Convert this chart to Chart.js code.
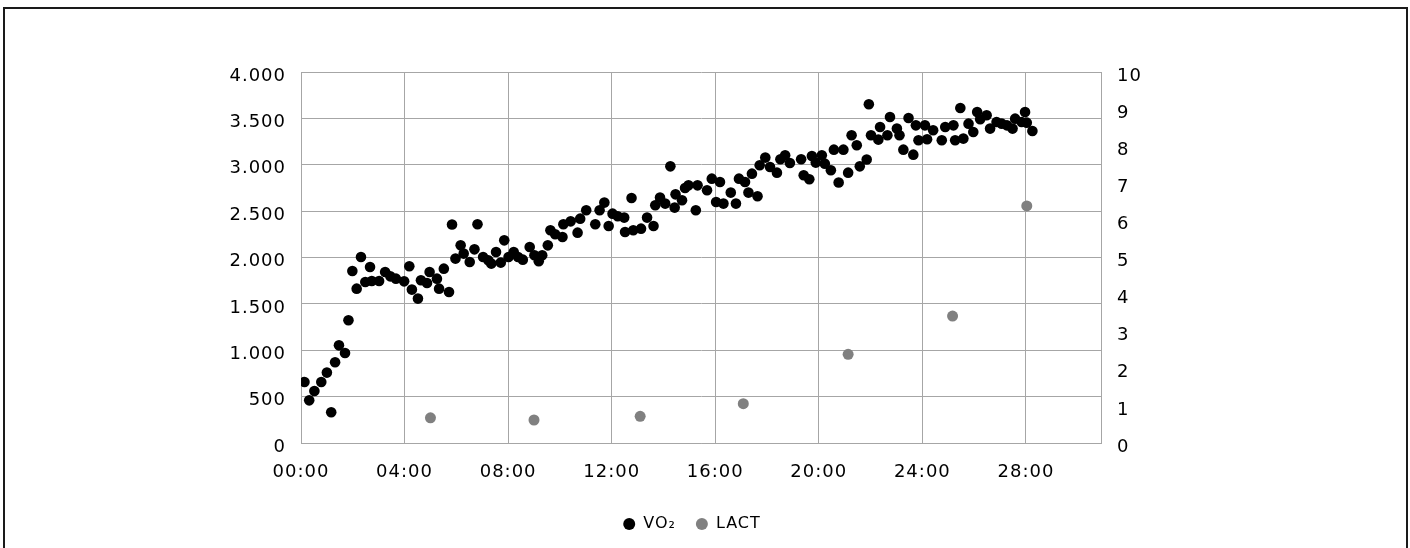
<!DOCTYPE html>
<html>
<head>
<meta charset="utf-8">
<script src="https://cdn.jsdelivr.net/npm/chart.js@4.4.1/dist/chart.umd.min.js"></script>
<style>
  html, body { margin: 0; padding: 0; background: #fff; overflow: hidden; }
  #wrap { position: relative; width: 1410px; height: 548px; }
  #frame {
    position: absolute; left: 3px; top: 7px; width: 1401px; height: 600px;
    border: 2px solid #1a1a1a; border-bottom: none; pointer-events: none;
  }
</style>
</head>
<body>
<div id="wrap">
  <canvas id="vo2Chart"></canvas>
  <div id="frame"></div>
</div>
<script>
// elapsed time in seconds, VO2 in ml/min
const vo2Time = [
  8, 19, 31, 47, 60, 70, 79, 88, 102, 110, 119, 129, 139, 149, 160, 164, 181, 195, 207, 220,
  239, 251, 257, 271, 278, 292, 298, 315, 320, 331, 343, 350, 358, 370, 377, 391, 402, 409, 422, 434,
  441, 452, 463, 471, 481, 493, 503, 514, 530, 541, 551, 559, 572, 578, 589, 606, 608, 625, 641, 647,
  661, 682, 692, 703, 713, 722, 734, 749, 751, 766, 770, 788, 802, 817, 821, 832, 844, 856, 866, 868,
  883, 890, 898, 915, 919, 941, 952, 962, 971, 979, 996, 1008, 1015, 1029, 1037, 1045, 1058, 1063, 1076, 1087,
  1103, 1111, 1122, 1133, 1159, 1165, 1178, 1184, 1193, 1207, 1214, 1228, 1235, 1246, 1257, 1268, 1276, 1288, 1295, 1311,
  1316, 1321, 1338, 1342, 1359, 1365, 1381, 1387, 1396, 1408, 1419, 1425, 1431, 1446, 1451, 1465, 1485, 1493, 1512, 1516,
  1528, 1535, 1547, 1558, 1567, 1574, 1589, 1597, 1612, 1624, 1636, 1649, 1655, 1670, 1678, 1682, 1695
]
const vo2Values = [
  658, 460, 561, 658, 759, 331, 870, 1053, 970, 1323, 1855, 1664, 2005, 1736, 1898, 1747, 1747, 1844, 1797, 1772,
  1743, 1905, 1654, 1557, 1754, 1725, 1844, 1772, 1664, 1880, 1628, 2355, 1988, 2131, 2042, 1952, 2088, 2358, 2005, 1970,
  1934, 2059, 1945, 2185, 2005, 2059, 2005, 1977, 2113, 2024, 1959, 2024, 2131, 2293, 2250, 2221, 2358, 2390, 2268, 2419,
  2509, 2358, 2509, 2592, 2340, 2473, 2444, 2430, 2275, 2642, 2293, 2311, 2430, 2340, 2563, 2646, 2581, 2983, 2538, 2681,
  2617, 2749, 2778, 2509, 2778, 2725, 2850, 2598, 2814, 2581, 2700, 2581, 2850, 2814, 2700, 2904, 2660, 2994, 3077, 2976,
  2915, 3059, 3102, 3019, 3059, 2886, 2843, 3094, 3023, 3102, 3012, 2940, 3163, 2808, 3163, 2915, 3318, 3210, 2983, 3056,
  3652, 3318, 3271, 3407, 3318, 3515, 3390, 3318, 3163, 3504, 3109, 3425, 3264, 3425, 3275, 3372, 3264, 3407, 3425, 3264,
  3612, 3282, 3443, 3353, 3569, 3490, 3533, 3390, 3461, 3443, 3425, 3390, 3497, 3461, 3569, 3454, 3364
]
// lactate samples (mmol/l)
const lactTime = [300, 540, 786, 1025, 1268, 1510, 1682]
const lactValues = [0.68, 0.62, 0.72, 1.06, 2.39, 3.42, 6.39]

const xMax = 1854
const vo2Ticks = [0, 500, 1000, 1500, 2000, 2500, 3000, 3500, 4000]
const lactTicks = [0, 1, 2, 3, 4, 5, 6, 7, 8, 9, 10]

function toPoints(xs, ys) {
  return xs.map((x, i) => ({ x: x, y: ys[i] }))
}

function mmss(sec) {
  const m = Math.floor(sec / 60)
  const s = Math.round(sec % 60)
  return String(m).padStart(2, '0') + ':' + String(s).padStart(2, '0')
}

function thousands(v) {
  return String(v).replace(/\B(?=(\d{3})+(?!\d))/g, '.')
}

// slightly wider text, like the original office chart font
const spacing = {
  id: 'spacing',
  beforeUpdate(chart) { chart.ctx.letterSpacing = '1px' },
  beforeDraw(chart) { chart.ctx.letterSpacing = '1px' }
}

Chart.defaults.font.family = '"DejaVu Sans", sans-serif'
Chart.defaults.color = '#000'

const gridColor = '#a6a6a6'

new Chart(document.getElementById('vo2Chart'), {
  type: 'scatter',
  data: {
    datasets: [{
      label: 'VO₂',
      data: toPoints(vo2Time, vo2Values),
      yAxisID: 'y',
      backgroundColor: '#000',
      borderWidth: 0,
      pointRadius: 5.3,
      pointHoverRadius: 5.3
    }, {
      label: 'LACT',
      data: toPoints(lactTime, lactValues),
      yAxisID: 'y1',
      backgroundColor: '#808080',
      borderWidth: 0,
      pointRadius: 5.5,
      pointHoverRadius: 5.5
    }]
  },
  options: {
    responsive: true,
    maintainAspectRatio: false,
    animation: false,
    layout: { padding: { top: 72, bottom: 6, left: 0, right: 26 } },
    plugins: {
      tooltip: { enabled: false },
      legend: {
        position: 'bottom',
        labels: {
          usePointStyle: true,
          pointStyle: 'circle',
          pointStyleWidth: 12,
          boxHeight: 8.5,
          padding: 20,
          font: { size: 16 }
        }
      }
    },
    scales: {
      x: {
        type: 'linear',
        min: 0,
        max: xMax,
        afterFit: s => { s.height = 53 },
        grid: { color: gridColor, drawTicks: false },
        border: { color: gridColor },
        ticks: {
          stepSize: 240,
          includeBounds: false,
          padding: 19,
          font: { size: 18 },
          callback: v => mmss(v)
        }
      },
      y: {
        position: 'left',
        min: 0,
        max: 4000,
        afterFit: s => { s.width = 301 },
        afterBuildTicks: s => { s.ticks = vo2Ticks.map(v => ({ value: v })) },
        grid: { color: gridColor, drawTicks: false },
        border: { color: gridColor },
        ticks: {
          padding: 15,
          labelOffset: 4,
          font: { size: 18 },
          callback: v => thousands(v)
        }
      },
      y1: {
        position: 'right',
        min: 0,
        max: 10,
        afterFit: s => { s.width = 1410 - 26 - 1101 },
        afterBuildTicks: s => { s.ticks = lactTicks.map(v => ({ value: v })) },
        grid: { drawOnChartArea: false, drawTicks: false },
        border: { color: gridColor },
        ticks: {
          padding: 16,
          labelOffset: 4,
          font: { size: 18 }
        }
      }
    }
  },
  plugins: [spacing]
})
</script>
</body>
</html>
